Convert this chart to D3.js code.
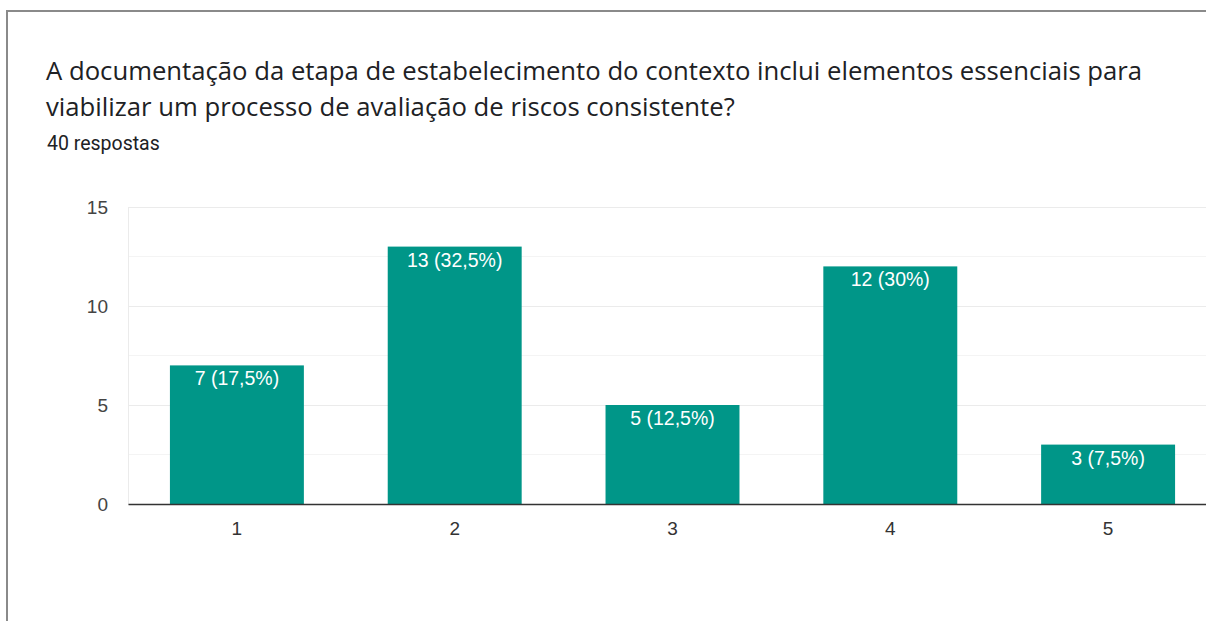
<!DOCTYPE html>
<html>
<head>
<meta charset="utf-8">
<script src="https://cdn.jsdelivr.net/npm/d3@7"></script>
<style>
  html, body { margin: 0; padding: 0; background: #fff; }
  svg { display: block; }
</style>
</head>
<body>
<svg id="chart" width="1206" height="621"></svg>
<script>
// Survey answers on a 1–5 scale
const categories = ["1", "2", "3", "4", "5"];
const counts = [7, 13, 5, 12, 3];
const valueLabels = ["7 (17,5%)", "13 (32,5%)", "5 (12,5%)", "12 (30%)", "3 (7,5%)"];
const yTicks = [0, 5, 10, 15];
const yMinorTicks = [2.5, 7.5, 12.5];
const titleLines = [
  "A documentação da etapa de estabelecimento do contexto inclui elementos essenciais para",
  "viabilizar um processo de avaliação de riscos consistente?"
];
const subtitle = "40 respostas";

const svg = d3.select("#chart");

// Card outline
svg.append("rect")
  .attr("x", 7).attr("y", 11)
  .attr("width", 1300).attr("height", 700)
  .attr("fill", "#fff")
  .attr("stroke", "#8a8a8a")
  .attr("stroke-width", 2);

// Heading
const title = svg.append("text")
  .attr("font-family", "'Open Sans', sans-serif")
  .attr("font-size", 25.7)
  .attr("fill", "#202124");
titleLines.forEach((t, i) => {
  title.append("tspan").attr("x", 46).attr("y", 80 + i * 36).text(t);
});
svg.append("text")
  .attr("x", 47).attr("y", 150)
  .attr("font-family", "Roboto, sans-serif")
  .attr("font-size", 19.5)
  .attr("fill", "#202124")
  .text(subtitle);

// Plot area
const plot = { left: 128, right: 1217, top: 207, bottom: 504 };

const x = d3.scaleBand()
  .domain(categories)
  .range([plot.left, plot.right])
  .paddingInner(0.385)
  .paddingOuter(0.1925);

const y = d3.scaleLinear()
  .domain([0, 15])
  .range([plot.bottom, plot.top]);

// Minor gridlines
svg.append("g").selectAll("line")
  .data(yMinorTicks).join("line")
  .attr("x1", plot.left).attr("x2", plot.right)
  .attr("y1", d => y(d)).attr("y2", d => y(d))
  .attr("stroke", "#f4f4f4").attr("stroke-width", 1);

// Major gridlines via axis
const yAxis = svg.append("g")
  .attr("transform", `translate(${plot.left},0)`)
  .call(d3.axisLeft(y).tickValues(yTicks).tickSize(-(plot.right - plot.left)).tickPadding(20));
yAxis.select(".domain").attr("stroke", "#ebebeb");
yAxis.selectAll(".tick line").attr("stroke", "#ebebeb").attr("stroke-width", 1.2);
yAxis.selectAll(".tick text")
  .attr("font-family", "Arial, 'Liberation Sans', sans-serif")
  .attr("font-size", 19)
  .attr("fill", "#444");

// Bars
svg.append("g").selectAll("rect")
  .data(counts).join("rect")
  .attr("x", (d, i) => x(categories[i]))
  .attr("y", d => y(d))
  .attr("width", x.bandwidth())
  .attr("height", d => y(0) - y(d))
  .attr("fill", "#009688");

// Value labels inside bar tops
svg.append("g").selectAll("text")
  .data(counts).join("text")
  .attr("x", (d, i) => x(categories[i]) + x.bandwidth() / 2)
  .attr("y", d => y(d) + 20)
  .attr("text-anchor", "middle")
  .attr("font-family", "Arial, 'Liberation Sans', sans-serif")
  .attr("font-size", 19.5)
  .attr("fill", "#fff")
  .text((d, i) => valueLabels[i]);

// Baseline and category axis
const xAxis = svg.append("g")
  .attr("transform", `translate(0,${plot.bottom})`)
  .call(d3.axisBottom(x).tickSize(0).tickPadding(18));
xAxis.select(".domain").attr("stroke", "#333").attr("stroke-width", 1.5);
xAxis.selectAll(".tick text")
  .attr("font-family", "Arial, 'Liberation Sans', sans-serif")
  .attr("font-size", 19)
  .attr("fill", "#333");
</script>
</body>
</html>
